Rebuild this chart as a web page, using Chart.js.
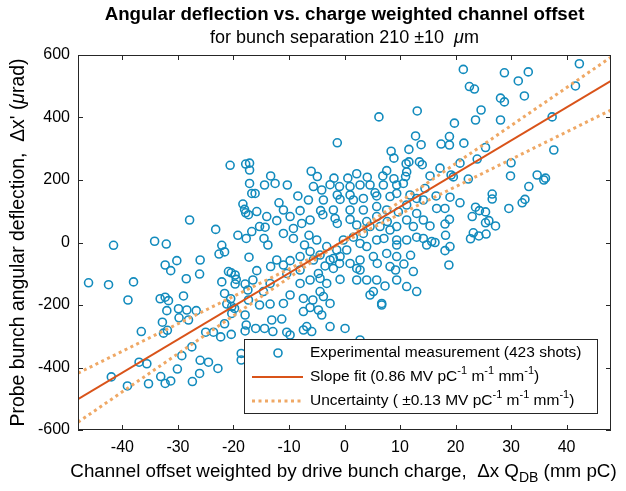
<!DOCTYPE html>
<html><head><meta charset="utf-8">
<script src="https://cdn.jsdelivr.net/npm/chart.js@4.4.1/dist/chart.umd.min.js"></script>
<style>html,body{margin:0;padding:0;background:#fff}canvas{display:block}</style>
</head><body>
<canvas id="c" width="626" height="491"></canvas>
<script>
const xTicks = [-40,-30,-20,-10,0,10,20,30,40];
const yTicks = [-600,-400,-200,0,200,400,600];
const xRange = [-48, 48];
const yRange = [-600, 600];

const measX = [
21.4,28.8,33.1,31.3,42.3,41.6,22.5,23.4,28.1,28.8,32.4,24.6,23.6,28.1,19.8,37.4,18.9,17.4,18.9,21.5,25.4,37.7,23.9,20.8,30.0,17.2,19.2,15.4,22.3,29.9,34.7,36.2,19.6,
-1.3,6.2,13.1,12.8,13.8,11.6,8.4,8.9,11.6,13.5,14.0,11.1,7.6,6.9,8.9,11.2,11.0,-17.1,-17.1,-13.3,-6.0,-4.9,-1.9,0.6,2.2,4.1,
-20.6,-17.8,
-46.1,-42.5,-41.6,-38,-39,-34.2,-32.1,-27.9,-32.3,-31.3,-30.2,-26,-26.1,-28.5,-33.2,-32.3,-31.7,-29,-29.9,-28.4,-26.7,-32,-23.2,-22.1,-22.6,-21.6,-19.2,-17.7,-17.2,-18.3,-18,-17.8,-17.3,-16.7,-16.7,-20.9,-20.4,-19.7,-19.5,-19.7,-22.1,-21.6,-21.2,-20.3,-17.9,-17.4,-17.3,-20.5,
-28.1,-29.8,-32.8,-32.6,-31.9,-36.6,-42,-39.1,-37,-35.6,-35.3,-33.1,-32.3,-31.3,-30.1,-29.3,-27.4,-26.1,-26,-24.5,-22.8,-27.5,-25,-23.6,-22.3,-20.4,-21.6,-20.3,-19.8,-17.9,-17.7,-17.9,-18.6,-18.6,
-16.1,-10.3,-2.6,-0.9,1,2.8,4.6,7,9.4,10.6,-8.4,-6.5,-11.8,-11,-8,-3.8,-4.3,-3.9,-1.3,-0.8,1.6,3.4,5.5,5.8,8.2,-15.8,-14.3,-12.2,-9.2,-7.7,-6.4,-7.2,-14.5,-13.8,-12.2,-13.3,-15.8,-16.5,-1.7,-1.3,1,2.2,4,5.8,7.7,9.7,11.2,13,14.2,11.8,8.2,9.4,7.1,3.4,1.6,-0.2,-1.4,-2.6,-3.5,-2,-0.9,-4.4,-0.8,-4.4,-7.4,-5.7,-3.8,-2.6,-9.8,-11,-13.4,-15.3,2.2,2.8,4.6,5.2,7.3,6.7,5.2,5.9,8.2,9.2,10.7,11.9,12.4,13,9.4,11.2,13,14.2,14.8,-9.8,-8,-11,-5.6,-4.7,
19,16.5,20.8,16.6,18.1,26.6,26.6,29.6,32,32.5,33.2,35.9,23.6,24.3,25.4,23,25.4,26,27.2,18.9,18.1,15.4,18.2,15.7,16.3,19,18.1,18.8,23.2,22.7,24.2,25.5,
-13.1,-11.3,-16,-14.4,-12.9,-10.4,-9.8,-7.4,-6.2,-4.7,-4.1,-2.6,0.1,-7.4,-6.8,-5.9,2.8,6.7,
-17.1,-14.4,-12.5,-5.6,-4.1,1,9.4,14.5,-15.3,-11,-9.2,-5,-3.2,-2,-4.4,-6.2,-8,-10.4,-13.4,-8,-14.6,-0.8,0.4,2.8,4,5.8,4.6,6.4,9.4,11.2,13,12.4,14.2,1,3.4,5.8,7.6,-2,-6.2,-9.8,-14,7.6,9.4,2.8,1,2.2,4,5.8,9.4,11.2,-3.2,-6.2
];
const measY = [
554,543,546,517,572,501,499,491,462,450,469,424,392,392,382,402,339,315,312,318,304,296,267,254,255,238,216,213,203,213,216,206,210,
319,402,421,341,313,298,292,270,258,258,249,252,230,213,204,226,211,254,232,213,228,211,206,206,220,209,
247,251,
-129,-135,-9,-126,-184,4,-5,72,-72,-90,-58,-56,-101,-116,-180,-175,-186,-171,-212,-216,-218,-218,42,-9,-37,-30,23,13,-47,123,106,95,89,157,35,-93,-97,-104,-118,-133,-126,-163,-197,-205,-133,-152,-184,-180,
-248,-241,-255,-290,-281,-285,-430,-459,-383,-388,-452,-429,-451,-443,-405,-362,-445,-419,-377,-383,-403,-334,-287,-287,-302,-294,-260,-227,-211,-232,-264,-283,-355,-376,
157,184,185,179,179,184,184,184,184,189,149,136,127,104,102,136,102,89,152,138,136,141,159,149,147,99,49,70,45,61,23,-8,13,-8,-56,-77,-90,-120,77,61,74,56,67,83,67,98,120,141,136,152,40,8,13,29,17,8,-24,-56,-75,-83,-67,-115,-118,-157,-179,-184,-173,-195,-168,-195,-197,-200,-83,-88,-168,-157,-139,-195,-45,-67,-77,-88,-69,-41,-93,-157,-8,8,17,13,-8,-58,-88,-72,-56,-99,
145,149,127,109,109,155,139,109,127,138,179,200,113,102,98,83,63,70,53,74,59,53,23,3,0,-13,-26,-72,31,12,21,27,
-248,-245,-275,-275,-285,-287,-296,-221,-208,-216,-232,-269,-275,-280,-269,-285,-312,-200,
189,184,189,179,168,152,157,173,51,29,13,8,-13,-51,-40,-29,-45,-99,-131,-131,-157,-45,-24,-3,-13,8,51,51,51,72,93,51,72,104,104,115,104,104,72,83,83,-35,-45,-56,-67,-120,-120,-120,-120,-141,-131,-120
];

const fitX = [-48, 48];
const fitY = [-501, 517];
const uncAX = [-48, 48];
const uncAY = [-418, 424];
const uncBX = [-48, 48];
const uncBY = [-575, 593];

const BLUE = '#128bbd';
const RED = '#d95319';
const PEACH = '#efa865';
const AX = '#262626';
const FONT = '"Liberation Sans", Arial, Helvetica, sans-serif';

function pts(xs, ys){ return xs.map((x,i)=>({x:x, y:ys[i]})); }

function segFont(s, size){
  const fs = (s.sup || s.sub) ? Math.round(size*0.72) : size;
  return (s.it ? 'italic ' : '') + (s.bold ? 'bold ' : '') + fs + 'px ' + FONT;
}
function drawRich(ctx, segs, x, y, size){
  let cx = x;
  for (const s of segs){
    ctx.font = segFont(s, size);
    const dy = s.sup ? -size*0.38 : (s.sub ? size*0.32 : 0);
    ctx.fillText(s.t, cx, y + dy);
    cx += ctx.measureText(s.t).width;
  }
  return cx - x;
}
function measureRich(ctx, segs, size){
  let w = 0;
  for (const s of segs){ ctx.font = segFont(s, size); w += ctx.measureText(s.t).width; }
  return w;
}

const decor = {
  id: 'decor',
  afterDraw(chart){
    const ctx = chart.ctx, a = chart.chartArea;
    const xs = chart.scales.x, ys = chart.scales.y;
    ctx.save();
    ctx.strokeStyle = AX; ctx.lineWidth = 1;
    ctx.strokeRect(a.left+0.5, a.top+0.5, a.right-a.left-1, a.bottom-a.top-1);
    ctx.beginPath();
    for (const v of xTicks){
      const p = Math.round(xs.getPixelForValue(v))+0.5;
      ctx.moveTo(p, a.bottom); ctx.lineTo(p, a.bottom-5);
      ctx.moveTo(p, a.top); ctx.lineTo(p, a.top+5);
    }
    for (const v of yTicks){
      const p = Math.round(ys.getPixelForValue(v))+0.5;
      ctx.moveTo(a.left, p); ctx.lineTo(a.left+5, p);
      ctx.moveTo(a.right, p); ctx.lineTo(a.right-5, p);
    }
    ctx.stroke();

    const cx = (a.left+a.right)/2;
    ctx.fillStyle = '#000';
    ctx.textAlign = 'left'; ctx.textBaseline = 'middle';
    const tl = [{t:'Angular deflection vs. charge weighted channel offset', bold:true}];
    const tw = measureRich(ctx, tl, 18.7);
    drawRich(ctx, tl, cx - tw/2, 15, 18.7);
    const st = [{t:'for bunch separation 210 \u00b110  '},{t:'\u03bc', it:true},{t:'m'}];
    const stw = measureRich(ctx, st, 18);
    drawRich(ctx, st, cx - stw/2, 38, 18);

    const xl = [{t:'Channel offset weighted by drive bunch charge,  \u0394x Q'},{t:'DB', sub:true},{t:' (mm pC)'}];
    const xw = measureRich(ctx, xl, 18.8);
    drawRich(ctx, xl, cx - xw/2 - 1, 472, 18.8);

    ctx.save();
    ctx.translate(19, (a.top+a.bottom)/2);
    ctx.rotate(-Math.PI/2);
    const yl = [{t:'Probe bunch angular deflection,  \u0394x\' ('},{t:'\u03bc', it:true},{t:'rad)'}];
    const yw = measureRich(ctx, yl, 19.4);
    drawRich(ctx, yl, -yw/2, 0, 19.4);
    ctx.restore();

    // legend
    const L = 244, T = 339, R = 597, B = 413;
    ctx.fillStyle = '#fff';
    ctx.fillRect(L, T, R-L, B-T);
    ctx.strokeStyle = AX; ctx.lineWidth = 1;
    ctx.strokeRect(L+0.5, T+0.5, R-L, B-T);
    const rows = [353, 377, 401];
    ctx.strokeStyle = BLUE; ctx.lineWidth = 1.6;
    ctx.beginPath(); ctx.arc(278, rows[0], 4, 0, Math.PI*2); ctx.stroke();
    ctx.strokeStyle = RED; ctx.lineWidth = 2;
    ctx.beginPath(); ctx.moveTo(252, rows[1]); ctx.lineTo(303, rows[1]); ctx.stroke();
    ctx.strokeStyle = PEACH; ctx.lineWidth = 3; ctx.setLineDash([3,3.5]);
    ctx.beginPath(); ctx.moveTo(252, rows[2]); ctx.lineTo(303, rows[2]); ctx.stroke();
    ctx.setLineDash([]);
    ctx.fillStyle = '#000';
    const LS = 15.5;
    drawRich(ctx, [{t:'Experimental measurement (423 shots)'}], 310, rows[0], LS);
    drawRich(ctx, [{t:'Slope fit (0.86 MV pC'},{t:'-1',sup:true},{t:' m'},{t:'-1',sup:true},{t:' mm'},{t:'-1',sup:true},{t:')'}], 310, rows[1], LS);
    drawRich(ctx, [{t:'Uncertainty ( \u00b10.13 MV pC'},{t:'-1',sup:true},{t:' m'},{t:'-1',sup:true},{t:' mm'},{t:'-1',sup:true},{t:')'}], 310, rows[2], LS);
    ctx.restore();
  }
};

new Chart(document.getElementById('c'), {
  type: 'scatter',
  data: {
    datasets: [
      { label: 'Experimental measurement (423 shots)', data: pts(measX, measY), order: 3,
        pointStyle: 'circle', pointRadius: 4, pointBorderWidth: 1.6,
        borderColor: BLUE, backgroundColor: 'rgba(0,0,0,0)', showLine: false },
      { label: 'Slope fit', data: pts(fitX, fitY), order: 1, showLine: true,
        borderColor: RED, borderWidth: 2, pointRadius: 0, fill: false },
      { label: 'Uncertainty', data: pts(uncAX, uncAY), order: 2, showLine: true,
        borderColor: PEACH, borderWidth: 3, borderDash: [3,3.5], pointRadius: 0, fill: false },
      { label: 'Uncertainty2', data: pts(uncBX, uncBY), order: 2, showLine: true,
        borderColor: PEACH, borderWidth: 3, borderDash: [3,3.5], pointRadius: 0, fill: false }
    ]
  },
  options: {
    responsive: false, animation: false, devicePixelRatio: 1,
    layout: { padding: { top: 55, right: 15, left: 0, bottom: 0 } },
    plugins: { legend: { display: false }, tooltip: { enabled: false }, title: { display: false } },
    scales: {
      x: { type: 'linear', min: xRange[0], max: xRange[1],
        grid: { display: false, drawTicks: false }, border: { display: false },
        ticks: { font: { size: 16, family: FONT }, color: '#000', padding: 8, maxRotation: 0 },
        afterBuildTicks: s => { s.ticks = xTicks.map(v => ({ value: v })); },
        afterFit: s => { s.height = 61; } },
      y: { type: 'linear', min: yRange[0], max: yRange[1],
        grid: { display: false, drawTicks: false }, border: { display: false },
        ticks: { font: { size: 16, family: FONT }, color: '#000', padding: 8 },
        afterBuildTicks: s => { s.ticks = yTicks.map(v => ({ value: v })); },
        afterFit: s => { s.width = 78; } }
    }
  },
  plugins: [decor]
});
</script>
</body></html>
